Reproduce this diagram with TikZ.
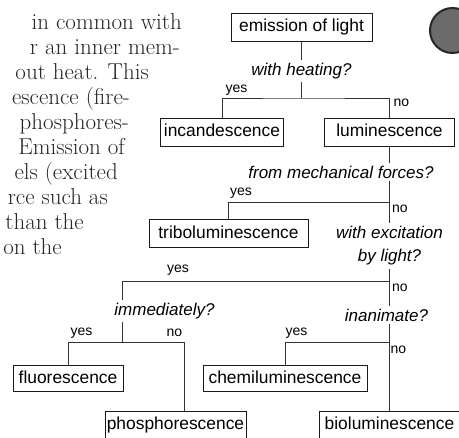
\documentclass[tikz,border=0pt]{standalone}
\usepackage{fontspec}
\newfontfamily\chartfont{Liberation Sans}
\begin{document}
\begin{tikzpicture}[x=1pt,y=-1pt,
  box/.style={draw=black!90,line width=1pt,inner sep=0pt,minimum height=28pt,
    text height=12.6pt,text depth=3.6pt,font=\chartfont\fontsize{17.4}{20}\selectfont},
  query/.style={inner xsep=0pt,inner ysep=3pt,align=center,
    font=\chartfont\itshape\fontsize{17}{23}\selectfont},
  answer/.style={inner sep=0pt,font=\chartfont\fontsize{14}{16}\selectfont},
  branch/.style={draw=black!80,line width=0.9pt},
  prose/.style={anchor=base east,inner sep=0pt,text=black!85,font=\fontsize{23}{25}\selectfont},
  disc/.style={circle,draw=black!85,fill=black!58,line width=2pt,minimum size=45pt,inner sep=0pt}]
\useasboundingbox (0,0) rectangle (459,438);
\clip (0,0) rectangle (459,438);
\node[prose] (p1) at (182,30) {in common with};
\node[prose] (p2) at (180,55) {r an inner mem-};
\node[prose] (p3) at (149,80) {out heat. This};
\node[prose] (p4) at (130,105) {escence (fire-};
\node[prose] (p5) at (129,130) {phosphores-};
\node[prose] (p6) at (125,155) {Emission of};
\node[prose] (p7) at (118,180) {els (excited};
\node[prose] (p8) at (108,205) {rce such as};
\node[prose] (p9) at (84,230) {than the};
\node[prose] (p10) at (62,255) {on the};
\node[disc] (dot) at (452.5,30.5) {};
\node[box,minimum width=141pt] (emit) at (301.5,27.5) {emission of light};
\node[query] (heat) at (301.5,71) {with heating?};
\coordinate (h1) at (301.5,98);
\node[box,minimum width=123pt] (incand) at (222,132.5) {incandescence};
\node[box,minimum width=130pt] (lumin) at (389.5,132.5) {luminescence};
\node[query] (mech) at (341,172) {from mechanical forces?};
\coordinate (h2) at (389.5,202);
\node[box,minimum width=159pt] (tribo) at (228.5,234) {triboluminescence};
\node[query] (excite) at (389.5,246) {with excitation\\by light?};
\coordinate (h3) at (389.5,281);
\coordinate (s3) at (122.5,281);
\node[query] (immed) at (164.5,311) {immediately?};
\node[query] (inanim) at (386.5,315) {inanimate?};
\coordinate (h4) at (122.5,342);
\coordinate (p4j) at (184,342);
\coordinate (h5) at (389.5,342);
\node[box,minimum width=110pt,minimum height=26pt] (fluor) at (68,379) {fluorescence};
\node[box,minimum width=141pt,minimum height=27pt] (phos) at (175.5,425.5) {phosphorescence};
\node[box,minimum width=164pt,minimum height=26pt] (chemi) at (285,379) {chemiluminescence};
\node[box,minimum width=141pt,minimum height=27pt] (biolum) at (389.5,425.5) {bioluminescence};
\draw[branch] (emit) -- (heat) -- (h1);
\draw[branch] (incand) |- (h1) -| (lumin);
\draw[branch] (lumin) -- (lumin |- mech.north);
\draw[branch] (lumin |- mech.south) -- (excite);
\draw[branch] (tribo) |- (h2);
\draw[branch] (excite) -- (excite |- inanim.north);
\draw[branch] (excite |- inanim.south) -- (biolum);
\draw[branch] (h3) -- (s3) -- (s3 |- immed.north);
\draw[branch] (s3 |- immed.south) -- (h4);
\draw[branch] (fluor) |- (p4j) -- (p4j |- phos.north);
\draw[branch] (chemi) |- (h5);
\node[answer] (yes1) at (236.5,90) {yes};
\node[answer] (no1) at (401.5,103) {no};
\node[answer] (yes2) at (241,193) {yes};
\node[answer] (no2) at (400,209) {no};
\node[answer] (yes3) at (178,270) {yes};
\node[answer] (no3) at (400,288) {no};
\node[answer] (yes4) at (81.5,333) {yes};
\node[answer] (no4) at (174.5,333) {no};
\node[answer] (yes5) at (296.5,333) {yes};
\node[answer] (no5) at (398.5,350) {no};
\end{tikzpicture}
\end{document}
